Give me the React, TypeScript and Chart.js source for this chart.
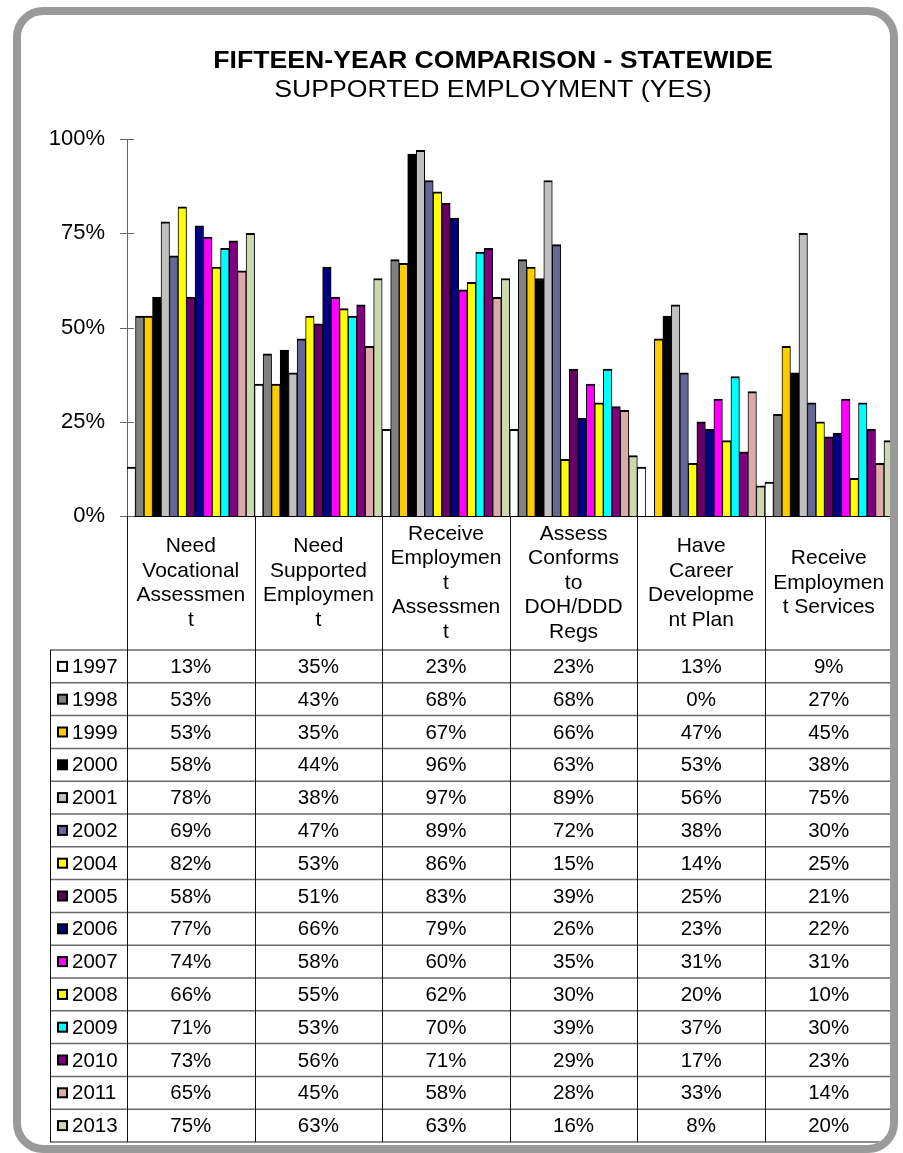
import { useEffect, useRef } from "react";
import { Chart, registerables } from "chart.js";

Chart.register(...registerables);

const titleText = "FIFTEEN-YEAR COMPARISON - STATEWIDE";
const subtitleText = "SUPPORTED EMPLOYMENT (YES)";

// Category labels, wrapped the way they appear in the header row
const categories: string[][] = [
  ["Need", "Vocational", "Assessmen", "t"],
  ["Need", "Supported", "Employmen", "t"],
  ["Receive", "Employmen", "t", "Assessmen", "t"],
  ["Assess", "Conforms", "to", "DOH/DDD", "Regs"],
  ["Have", "Career", "Developme", "nt Plan"],
  ["Receive", "Employmen", "t Services"],
];

const years = [
  "1997", "1998", "1999", "2000", "2001", "2002", "2004", "2005",
  "2006", "2007", "2008", "2009", "2010", "2011", "2013",
];

// Percent "yes" per category, one array per survey year
const values1997 = [13, 35, 23, 23, 13, 9];
const values1998 = [53, 43, 68, 68, 0, 27];
const values1999 = [53, 35, 67, 66, 47, 45];
const values2000 = [58, 44, 96, 63, 53, 38];
const values2001 = [78, 38, 97, 89, 56, 75];
const values2002 = [69, 47, 89, 72, 38, 30];
const values2004 = [82, 53, 86, 15, 14, 25];
const values2005 = [58, 51, 83, 39, 25, 21];
const values2006 = [77, 66, 79, 26, 23, 22];
const values2007 = [74, 58, 60, 35, 31, 31];
const values2008 = [66, 55, 62, 30, 20, 10];
const values2009 = [71, 53, 70, 39, 37, 30];
const values2010 = [73, 56, 71, 29, 17, 23];
const values2011 = [65, 45, 58, 28, 33, 14];
const values2013 = [75, 63, 63, 16, 8, 20];

const seriesValues = [
  values1997, values1998, values1999, values2000, values2001,
  values2002, values2004, values2005, values2006, values2007,
  values2008, values2009, values2010, values2011, values2013,
];

const yearColors = [
  "#FFFFFF", "#808080", "#FFCC00", "#000000", "#C0C0C0",
  "#666699", "#FFFF00", "#660066", "#000080", "#FF00FF",
  "#FFFF00", "#00FFFF", "#800080", "#DDAAAA", "#CCD9B0",
];

const yTickValues = [0, 25, 50, 75, 100];

const FONT = '"Liberation Sans", Arial, Helvetica, sans-serif';
const ROW_H = 32.8;
const KEY_COL_W = 77;
const TABLE_FONT = `20.5px ${FONT}`;
const TITLE_CENTER_X = 493;
const TITLE_STRETCH = 1.11;

function line(ctx: CanvasRenderingContext2D, x1: number, y1: number, x2: number, y2: number) {
  ctx.beginPath();
  ctx.moveTo(x1, y1);
  ctx.lineTo(x2, y2);
  ctx.stroke();
}

function wideText(ctx: CanvasRenderingContext2D, text: string, font: string, x: number, baseline: number) {
  ctx.save();
  ctx.font = font;
  ctx.fillStyle = "#000";
  ctx.textAlign = "center";
  ctx.textBaseline = "alphabetic";
  ctx.translate(x, baseline);
  ctx.scale(TITLE_STRETCH, 1);
  ctx.fillText(text, 0, 0);
  ctx.restore();
}

// Heading, cross tick marks on the value axis and the data table under the plot
const dataTablePlugin = {
  id: "dataTable",
  beforeDatasetsDraw(chart: any) {
    const { ctx, chartArea, scales } = chart;
    const y = scales.y;
    ctx.save();
    ctx.strokeStyle = "#666";
    ctx.lineWidth = 1;
    for (const v of yTickValues) {
      const py = Math.round(y.getPixelForValue(v)) + 0.5;
      line(ctx, chartArea.left - 7, py, chartArea.left + 7, py);
    }
    ctx.restore();
  },
  afterDraw(chart: any) {
    const { ctx, chartArea, scales } = chart;

    wideText(ctx, titleText, `bold 24px ${FONT}`, TITLE_CENTER_X, 67.5);
    wideText(ctx, subtitleText, `24px ${FONT}`, TITLE_CENTER_X, 96.5);

    const x = scales.x;
    const n = categories.length;
    const colW = (x.right - x.left) / n;
    const headerBottom = x.bottom;
    const tableBottom = headerBottom + ROW_H * years.length;
    const keyLeft = chartArea.left - KEY_COL_W;

    ctx.save();
    // row rules
    ctx.strokeStyle = "#6a6a6a";
    ctx.lineWidth = 1.5;
    for (let r = 0; r <= years.length; r++) {
      const py = headerBottom + r * ROW_H;
      line(ctx, keyLeft, py, x.right, py);
    }
    // column rules
    ctx.strokeStyle = "#111";
    ctx.lineWidth = 1;
    for (let c = 0; c <= n; c++) {
      const px = Math.round(x.left + c * colW) + 0.5;
      line(ctx, px, chartArea.bottom, px, tableBottom);
    }
    const kx = Math.round(keyLeft) + 0.5;
    line(ctx, kx, headerBottom, kx, tableBottom);

    // legend keys, years and values
    ctx.font = TABLE_FONT;
    ctx.textBaseline = "middle";
    years.forEach((yr, r) => {
      const cy = headerBottom + r * ROW_H + ROW_H / 2;
      ctx.fillStyle = yearColors[r];
      ctx.fillRect(keyLeft + 8, cy - 4.5, 9, 9);
      ctx.strokeStyle = "#000";
      ctx.lineWidth = 2;
      ctx.strokeRect(keyLeft + 8, cy - 4.5, 9, 9);

      ctx.fillStyle = "#000";
      ctx.textAlign = "left";
      ctx.fillText(yr, keyLeft + 22, cy + 1);

      ctx.textAlign = "center";
      seriesValues[r].forEach((v, c) => {
        ctx.fillText(`${v}%`, x.getPixelForValue(c), cy + 1);
      });
    });
    ctx.restore();
  },
};

export default function App() {
  const canvasRef = useRef<HTMLCanvasElement | null>(null);

  useEffect(() => {
    const canvas = canvasRef.current;
    if (!canvas) return;
    Chart.defaults.font.family = FONT;
    Chart.defaults.color = "#000";

    const chart = new Chart(canvas, {
      type: "bar",
      data: {
        labels: categories,
        datasets: years.map((yr, i) => ({
          label: yr,
          data: seriesValues[i],
          backgroundColor: yearColors[i],
          borderColor: "#000",
          borderWidth: { top: 2, left: 1, right: 1, bottom: 0 },
          borderSkipped: false,
          categoryPercentage: 1,
          barPercentage: 1,
        })),
      },
      options: {
        responsive: false,
        devicePixelRatio: 1,
        animation: false,
        events: [],
        layout: { padding: { left: 40, right: 10, top: 139, bottom: 503 } },
        plugins: {
          legend: { display: false },
          tooltip: { enabled: false },
          title: { display: false },
        },
        scales: {
          x: {
            offset: true,
            grid: { display: false, drawTicks: false },
            border: { display: true, color: "#000", width: 1 },
            ticks: {
              color: "#000",
              font: { family: FONT, size: 21, lineHeight: "24.5px" },
              padding: 18,
              crossAlign: "center",
              maxRotation: 0,
              minRotation: 0,
              autoSkip: false,
            },
            afterFit: (s: any) => {
              s.height = 134;
            },
          },
          y: {
            min: 0,
            max: 100,
            grid: { display: false, drawTicks: false },
            border: { display: true, color: "#666", width: 1 },
            ticks: {
              stepSize: 25,
              color: "#000",
              font: { family: FONT, size: 22 },
              padding: 22,
              callback: (v: any) => `${v}%`,
            },
            afterFit: (s: any) => {
              s.width = 87;
            },
          },
        },
      },
      plugins: [dataTablePlugin],
    } as any);

    return () => chart.destroy();
  }, []);

  return (
    <div style={{ position: "absolute", left: 0, top: 0, width: 903, height: 1153, background: "#fff" }}>
      <div
        style={{
          position: "absolute",
          left: 13,
          top: 7,
          width: 885,
          height: 1146,
          boxSizing: "border-box",
          border: "8px solid #9a9a9a",
          borderRadius: 30,
          overflow: "hidden",
          background: "#fff",
        }}
      >
        <canvas
          ref={canvasRef}
          width={903}
          height={1153}
          style={{ position: "absolute", left: -21, top: -15, width: 903, height: 1153 }}
        />
      </div>
    </div>
  );
}
